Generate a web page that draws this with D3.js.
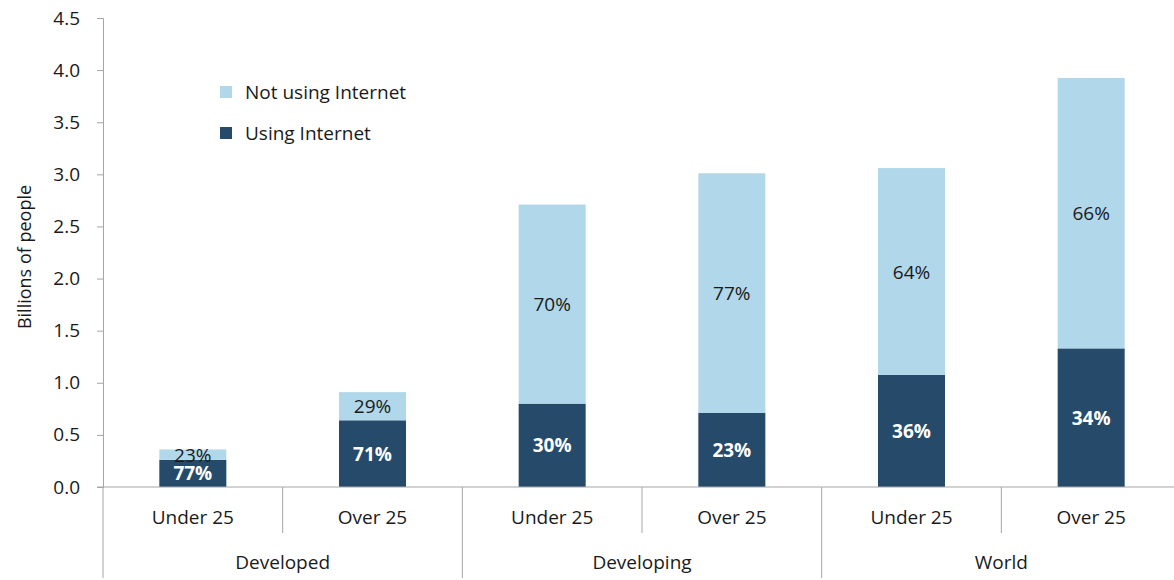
<!DOCTYPE html>
<html>
<head>
<meta charset="utf-8">
<script src="https://cdnjs.cloudflare.com/ajax/libs/d3/7.8.5/d3.min.js"></script>
<style>
body{margin:0;background:#fff}
text{font-family:"Open Sans",sans-serif;fill:#1a1a1a}
</style>
</head>
<body>
<svg id="chart" width="1174" height="580"></svg>
<script>
var groups = ["Developed","Developing","World"]
var ages = ["Under 25","Over 25"]
var usingVals = [0.26, 0.64, 0.80, 0.71, 1.075, 1.33]
var notUsingVals = [0.10, 0.27, 1.91, 2.30, 1.985, 2.595]
var usingPct = ["77%","71%","30%","23%","36%","34%"]
var notUsingPct = ["23%","29%","70%","77%","64%","66%"]
var yTicks = [0,0.5,1,1.5,2,2.5,3,3.5,4,4.5]

var svg = d3.select("#chart")
var padL = 103, padR = 1181, padT = 18, base = 487
var fs = "19px"

var rows = []
groups.forEach(function(g,gi){
  ages.forEach(function(a,ai){
    var i = gi*2+ai
    rows.push({key:g+"|"+a, group:g, age:a, using:usingVals[i], notUsing:notUsingVals[i],
      uPct:usingPct[i], nPct:notUsingPct[i]})
  })
})

var x = d3.scaleBand().domain(rows.map(function(d){return d.key}))
  .range([padL,padR]).paddingInner(0.627).paddingOuter(0.3135)
var y = d3.scaleLinear().domain([0,4.5]).range([base,padT])

var colors = {using:"#264a6a", notUsing:"#b1d7ea"}
var stack = d3.stack().keys(["using","notUsing"])(rows)

stack.forEach(function(layer){
  svg.append("g").selectAll("rect").data(layer).enter().append("rect")
    .attr("x",function(d){return x(d.data.key)})
    .attr("width",x.bandwidth())
    .attr("y",function(d){return y(d[1])})
    .attr("height",function(d){return y(d[0])-y(d[1])})
    .attr("fill",colors[layer.key])
})

// labels
stack.forEach(function(layer){
  svg.append("g").selectAll("text").data(layer).enter().append("text")
    .attr("x",function(d){return x(d.data.key)+x.bandwidth()/2})
    .attr("y",function(d){return (y(d[0])+y(d[1]))/2})
    .attr("text-anchor","middle")
    .attr("dominant-baseline","central")
    .style("font-size",fs)
    .style("font-weight",layer.key=="using"?"bold":"normal")
    .style("fill",layer.key=="using"?"#ffffff":"#1a1a1a")
    .text(function(d){return layer.key=="using"?d.data.uPct:d.data.nPct})
})

// y axis
var yAxis = d3.axisLeft(y).tickValues(yTicks).tickSize(6).tickFormat(d3.format(".1f"))
var ga = svg.append("g").attr("transform","translate("+padL+",0)").call(yAxis)
ga.select(".domain").attr("stroke","#a6a6a6")
ga.selectAll(".tick line").attr("stroke","#a6a6a6")
ga.selectAll(".tick text").attr("x",-23).style("font-size",fs).style("font-family","Open Sans").attr("fill","#1a1a1a")

svg.append("text").attr("transform","translate(24,257) rotate(-90)")
  .attr("text-anchor","middle").attr("dominant-baseline","central").style("font-size","18px").text("Billions of people")

// bottom axis
svg.append("line").attr("x1",padL-6).attr("x2",1174).attr("y1",base).attr("y2",base)
  .attr("stroke","#a6a6a6")
var step = x.step()
d3.range(groups.length+1).forEach(function(k){
  svg.append("line").attr("x1",padL+2*k*step).attr("x2",padL+2*k*step)
    .attr("y1",base).attr("y2",578).attr("stroke","#a6a6a6")
})
d3.range(groups.length).forEach(function(k){
  svg.append("line").attr("x1",padL+(2*k+1)*step).attr("x2",padL+(2*k+1)*step)
    .attr("y1",base).attr("y2",533).attr("stroke","#a6a6a6")
})
svg.append("g").selectAll("text").data(rows).enter().append("text")
  .attr("x",function(d){return x(d.key)+x.bandwidth()/2})
  .attr("y",517).attr("text-anchor","middle").attr("dominant-baseline","central").style("font-size",fs)
  .text(function(d){return d.age})
svg.append("g").selectAll("text").data(groups).enter().append("text")
  .attr("x",function(d,i){return padL+(2*i+1)*step})
  .attr("y",562).attr("text-anchor","middle").attr("dominant-baseline","central").style("font-size",fs)
  .text(function(d){return d})

// legend
var legend = [{k:"notUsing",t:"Not using Internet",y:92},{k:"using",t:"Using Internet",y:133}]
var lg = svg.append("g").selectAll("g").data(legend).enter().append("g")
lg.append("rect").attr("x",220).attr("y",function(d){return d.y-6}).attr("width",12).attr("height",12)
  .attr("fill",function(d){return colors[d.k]})
lg.append("text").attr("x",245).attr("y",function(d){return d.y}).attr("dominant-baseline","central")
  .style("font-size",fs).text(function(d){return d.t})
</script>
</body>
</html>
